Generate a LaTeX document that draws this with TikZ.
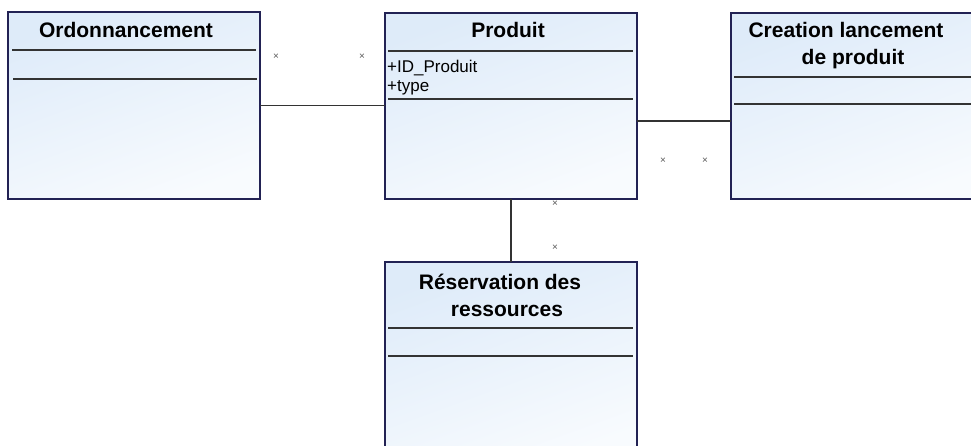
\documentclass[tikz,border=0pt]{standalone}
\usepackage{fontspec}
\setmainfont{Liberation Sans}
\definecolor{boxline}{RGB}{34,34,84}
\definecolor{topc}{RGB}{222,235,249}
\definecolor{botc}{RGB}{248,251,254}
\begin{document}
\begin{tikzpicture}[x=1pt,y=-1pt,
 classbox/.style={draw=boxline, line width=1.5pt, top color=topc, bottom color=botc, shading angle=20, minimum width=252pt, anchor=north west, inner sep=0pt, outer sep=0pt},
 sep/.style={line width=1.5pt, draw=black!80},
 link/.style={line width=1.6pt, draw=black!80},
 title/.style={font=\fontsize{21}{27}\selectfont\bfseries, inner sep=0pt, anchor=base},
 attr/.style={font=\fontsize{17}{19}\selectfont, inner sep=0pt, anchor=base west},
 mult/.style={font=\fontsize{10}{10}\selectfont, inner sep=0pt, text=black!65}]
\useasboundingbox (0,0) rectangle (971,446);
\clip (0,0) rectangle (971,446);
% boxes
\node[classbox, minimum height=187pt] (ord) at (8,12) {};
\node[classbox, minimum height=186pt] (prod) at (385,13) {};
\node[classbox, minimum height=186pt, minimum width=262pt] (crea) at (731,13) {};
\node[classbox, minimum height=200pt] (res) at (385,262) {};
% separators
\draw[sep] (12,50) -- (256,50);
\draw[sep] (13,79) -- (257,79);
\draw[sep] (388,51) -- (633,51);
\draw[sep] (388,99) -- (633,99);
\draw[sep] (734,77) -- (971,77);
\draw[sep] (734,104) -- (971,104);
\draw[sep] (388,328) -- (633,328);
\draw[sep] (388,356) -- (633,356);
% titles
\node[title] (ordT) at (126,38) {Ordonnancement};
\node[title] (prodT) at (508,38) {Produit};
\node[title] (creaT1) at (846,38) {Creation lancement};
\node[title] (creaT2) at (853,65) {de produit};
\node[title] (resT1) at (500,289) {Réservation des};
\node[title] (resT2) at (507,316) {ressources};
% attributes
\node[attr] (a1) at (387,73) {+ID\_Produit};
\node[attr] (a2) at (387,92) {+type};
% connectors
\draw[link] (ord.east) -- (ord.east -| prod.west);
\draw[link] ([yshift=-15pt]prod.east) -- ([yshift=-15pt]prod.east -| crea.west);
\draw[link] (prod.south) -- (res.north);
% multiplicities
\node[mult] (m1) at (276,57) {×};
\node[mult] (m2) at (362,57) {×};
\node[mult] (m3) at (663,161) {×};
\node[mult] (m4) at (705,161) {×};
\node[mult] (m5) at (555,204) {×};
\node[mult] (m6) at (555,248) {×};
\end{tikzpicture}
\end{document}
